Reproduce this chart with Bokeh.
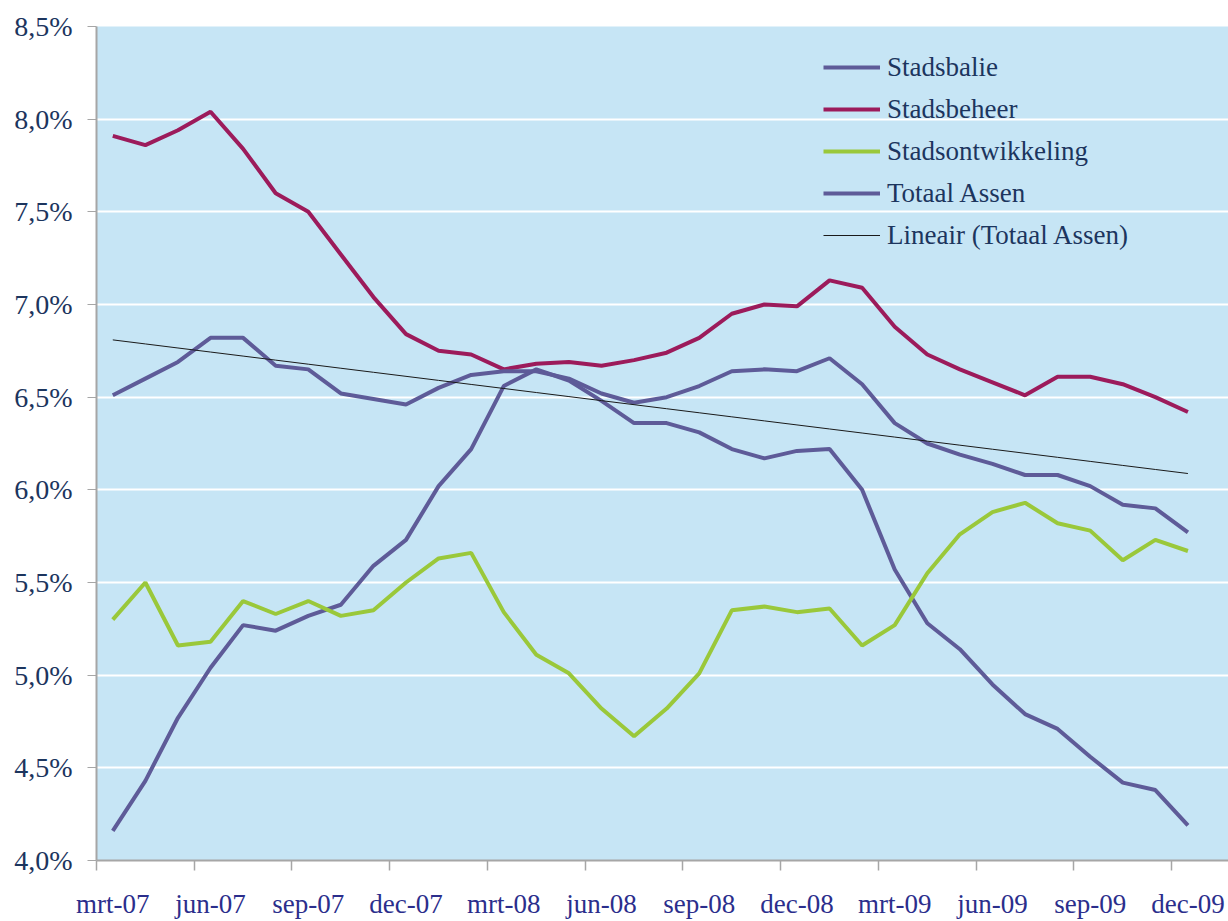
import numpy as np
from bokeh.plotting import figure
from bokeh.models import Range1d, FixedTicker, Legend, LegendItem
from bokeh.embed import file_html
from bokeh.resources import INLINE

months = ["mrt-07", "apr-07", "mei-07", "jun-07", "jul-07", "aug-07", "sep-07", "okt-07", "nov-07", "dec-07",
          "jan-08", "feb-08", "mrt-08", "apr-08", "mei-08", "jun-08", "jul-08", "aug-08", "sep-08", "okt-08",
          "nov-08", "dec-08", "jan-09", "feb-09", "mrt-09", "apr-09", "mei-09", "jun-09", "jul-09", "aug-09",
          "sep-09", "okt-09", "nov-09", "dec-09"]

stadsbalie = [4.16, 4.43, 4.77, 5.04, 5.27, 5.24, 5.32, 5.38, 5.59, 5.73, 6.02, 6.22, 6.56, 6.65, 6.59, 6.48,
              6.36, 6.36, 6.31, 6.22, 6.17, 6.21, 6.22, 6.00, 5.57, 5.28, 5.14, 4.95, 4.79, 4.71, 4.56, 4.42,
              4.38, 4.19]
stadsbeheer = [7.91, 7.86, 7.94, 8.04, 7.84, 7.60, 7.50, 7.27, 7.04, 6.84, 6.75, 6.73, 6.65, 6.68, 6.69, 6.67,
               6.70, 6.74, 6.82, 6.95, 7.00, 6.99, 7.13, 7.09, 6.88, 6.73, 6.65, 6.58, 6.51, 6.61, 6.61, 6.57,
               6.50, 6.42]
stadsontwikkeling = [5.30, 5.50, 5.16, 5.18, 5.40, 5.33, 5.40, 5.32, 5.35, 5.50, 5.63, 5.66, 5.34, 5.11, 5.01,
                     4.82, 4.67, 4.82, 5.01, 5.35, 5.37, 5.34, 5.36, 5.16, 5.27, 5.55, 5.76, 5.88, 5.93, 5.82,
                     5.78, 5.62, 5.73, 5.67]
totaal_assen = [6.51, 6.60, 6.69, 6.82, 6.82, 6.67, 6.65, 6.52, 6.49, 6.46, 6.55, 6.62, 6.64, 6.64, 6.60, 6.52,
                6.47, 6.50, 6.56, 6.64, 6.65, 6.64, 6.71, 6.57, 6.36, 6.25, 6.19, 6.14, 6.08, 6.08, 6.02, 5.92,
                5.90, 5.77]

y_ticks = [4.0, 4.5, 5.0, 5.5, 6.0, 6.5, 7.0, 7.5, 8.0, 8.5]
y_tick_labels = ["4,0%", "4,5%", "5,0%", "5,5%", "6,0%", "6,5%", "7,0%", "7,5%", "8,0%", "8,5%"]

x = list(range(len(months)))
# linear trend line of Totaal Assen (Excel "Lineair")
coef = np.polyfit(x, totaal_assen, 1)
trend = list(np.polyval(coef, x))

FONT = "Liberation Serif"
NAVY = "#1C355E"
XLAB = "#2B2E8C"
BG = "#C6E5F5"
C_BALIE = "#5E5B98"
C_BEHEER = "#9C1B5B"
C_ONTW = "#9AC83A"
C_TREND = "#1A1A1A"

p = figure(width=1228, height=921,
           x_range=Range1d(-0.5, -0.5 + 1132 / 32.58), y_range=Range1d(4.0, 8.5),
           output_backend="svg", toolbar_location=None,
           min_border_left=96, min_border_right=0, min_border_top=26, min_border_bottom=61)
p.background_fill_color = BG
p.border_fill_color = "white"
p.outline_line_color = None

# grid
p.xgrid.grid_line_color = None
p.ygrid.grid_line_color = "white"
p.ygrid.grid_line_width = 2
p.ygrid.ticker = FixedTicker(ticks=y_ticks)

# y axis
p.yaxis.ticker = FixedTicker(ticks=y_ticks)
p.yaxis.major_label_overrides = {t: l for t, l in zip(y_ticks, y_tick_labels)}
p.yaxis.major_label_text_font = FONT
p.yaxis.major_label_text_font_size = "28px"
p.yaxis.major_label_text_color = NAVY
p.yaxis.axis_line_color = "#A6A6A6"
p.yaxis.axis_line_width = 2
p.yaxis.major_tick_line_color = "#A6A6A6"
p.yaxis.major_tick_out = 9
p.yaxis.major_tick_in = 0
p.yaxis.minor_tick_line_color = None
p.yaxis.major_label_standoff = 15

# x axis: labels every 3 months, ticks at category boundaries
label_idx = list(range(0, len(months), 3))
boundaries = [i - 0.5 for i in range(0, len(months) + 3, 3)]
p.xaxis.ticker = FixedTicker(ticks=label_idx, minor_ticks=boundaries)
p.xaxis.major_label_overrides = {i: months[i] for i in label_idx}
p.xaxis.major_label_text_font = FONT
p.xaxis.major_label_text_font_size = "27px"
p.xaxis.major_label_text_color = XLAB
p.xaxis.axis_line_color = "#A6A6A6"
p.xaxis.axis_line_width = 2
p.xaxis.major_tick_line_color = None
p.xaxis.major_tick_out = 0
p.xaxis.major_tick_in = 0
p.xaxis.minor_tick_line_color = "#A6A6A6"
p.xaxis.minor_tick_line_width = 1.5
p.xaxis.minor_tick_out = 10
p.xaxis.minor_tick_in = 0
p.xaxis.major_label_standoff = 18

r1 = p.line(x, stadsbalie, line_color=C_BALIE, line_width=4)
r2 = p.line(x, stadsbeheer, line_color=C_BEHEER, line_width=4)
r3 = p.line(x, stadsontwikkeling, line_color=C_ONTW, line_width=4)
r4 = p.line(x, totaal_assen, line_color=C_BALIE, line_width=4)
r5 = p.line(x, trend, line_color=C_TREND, line_width=1)

legend = Legend(items=[
    LegendItem(label="Stadsbalie", renderers=[r1]),
    LegendItem(label="Stadsbeheer", renderers=[r2]),
    LegendItem(label="Stadsontwikkeling", renderers=[r3]),
    LegendItem(label="Totaal Assen", renderers=[r4]),
    LegendItem(label="Lineair (Totaal Assen)", renderers=[r5]),
], location=(727, 604))
legend.border_line_color = None
legend.background_fill_alpha = 0
legend.padding = 0
legend.margin = 0
legend.spacing = 0
legend.glyph_width = 57
legend.glyph_height = 42
legend.label_height = 42
legend.label_standoff = 7
legend.label_text_font = FONT
legend.label_text_font_size = "27px"
legend.label_text_color = NAVY
p.add_layout(legend)

open("out.html", "w").write(file_html(p, INLINE))
